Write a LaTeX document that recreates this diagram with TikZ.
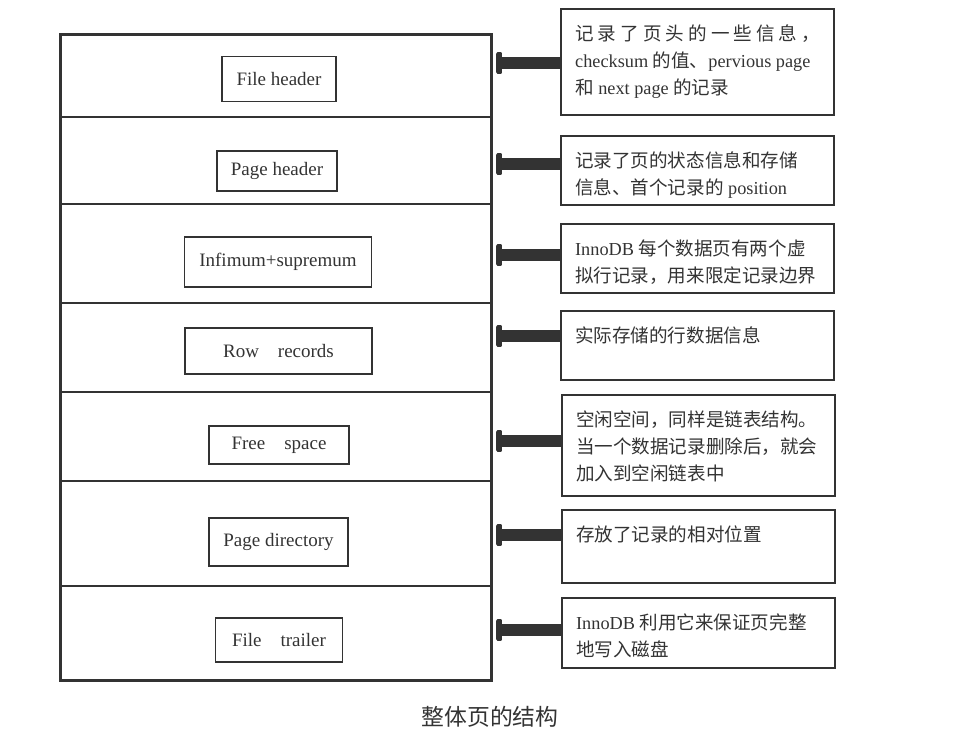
\documentclass[tikz,border=0pt]{standalone}
\usepackage{fontspec}
\setmainfont{Liberation Serif}
\newfontfamily\zhfont{Noto Sans CJK SC}[Scale=1.015]
\usetikzlibrary{arrows.meta}

\newcommand\zh[1]{{\zhfont #1}}
% body of a note box: first its whole height, then its lines
\newcommand\notebody[2]{\parbox[c][\dimexpr#1-18pt\relax][t]{6.125cm}{\raggedright\strut #2}}

\definecolor{inkgrey}{rgb}{0.2,0.2,0.2}
\definecolor{textgrey}{rgb}{0.2,0.2,0.2}

\tikzset{
  pageframe/.style={draw=inkgrey, line width=2.1pt, inner sep=0pt},
  divider/.style={draw=inkgrey, line width=1.2pt},
  part/.style={draw=inkgrey, line width=1.1pt, inner sep=0pt, text=textgrey,
    font=\fontsize{13.5}{16}\selectfont},
  note/.style={draw=inkgrey, line width=1.6pt, anchor=north west, inner xsep=0.35cm,
    inner ysep=9pt, text=textgrey, font=\fontsize{13}{19.2}\selectfont},
  pointer/.style={draw=inkgrey, line width=8pt,
    {Rectangle[length=4.5pt,width=15pt,round]}-, shorten <=2.5pt}
}

\begin{document}
\begin{tikzpicture}[x=0.025cm, y=-0.025cm]
    \useasboundingbox (0,0) rectangle (955,741);

    % The page itself, cut into its seven parts
    \node[pageframe, minimum width=10.75cm, minimum height=16.125cm] (page) at (276,357.5) {};
    \foreach \y in {116.7,204,302.7,392,481,585.7}
      \draw[divider] (page.west |- 0,\y) -- (page.east |- 0,\y);

    \node[part, minimum width=2.85cm,  minimum height=1.125cm] (fh)  at (279,79)    {File header};
    \node[part, minimum width=3cm,     minimum height=1cm]     (ph)  at (277,171)   {Page header};
    \node[part, minimum width=4.675cm, minimum height=1.25cm]  (inf) at (278,262)   {Infimum+supremum};
    \node[part, minimum width=4.675cm, minimum height=1.15cm]  (rr)  at (278.5,351) {Row\quad records};
    \node[part, minimum width=3.5cm,   minimum height=0.95cm]  (fs)  at (279,445)   {Free\quad space};
    \node[part, minimum width=3.475cm, minimum height=1.2cm]   (pd)  at (278.5,542) {Page directory};
    \node[part, minimum width=3.175cm, minimum height=1.1cm]   (ft)  at (279,640)   {File\quad trailer};

    % Now the notes on the right, one for every part:
    \node[note] (d1) at (560,8)   {\notebody{2.65cm}{\zh{记 录 了 页 头 的 一 些 信 息 ，}\\
        checksum \zh{的值、}pervious page\\ \zh{和} next page \zh{的记录}}};
    \node[note] (d2) at (560,135) {\notebody{1.725cm}{\zh{记录了页的状态信息和存储}\\
        \zh{信息、首个记录的} position}};
    \node[note] (d3) at (560,223) {\notebody{1.725cm}{InnoDB \zh{每个数据页有两个虚}\\
        \zh{拟行记录，用来限定记录边界}}};
    \node[note] (d4) at (560,310) {\notebody{1.725cm}{\zh{实际存储的行数据信息}}};
    \node[note] (d5) at (561,394) {\notebody{2.525cm}{\zh{空闲空间，同样是链表结构。}\\
        \zh{当一个数据记录删除后，就会}\\ \zh{加入到空闲链表中}}};
    \node[note] (d6) at (561,509) {\notebody{1.825cm}{\zh{存放了记录的相对位置}}};
    \node[note] (d7) at (561,597) {\notebody{1.75cm}{InnoDB \zh{利用它来保证页完整}\\
        \zh{地写入磁盘}}};

    % Next, the thick pointers from each note back to the page:
    \foreach \i/\y in {1/63,2/164,3/255,4/336,5/441,6/535,7/630}
      \draw[pointer] (page.east |- 0,\y) -- (d\i.west |- 0,\y);

    \node[text=textgrey, font=\fontsize{16}{18}\zhfont] (caption) at (490,717) {整体页的结构};

\end{tikzpicture}
\end{document}
